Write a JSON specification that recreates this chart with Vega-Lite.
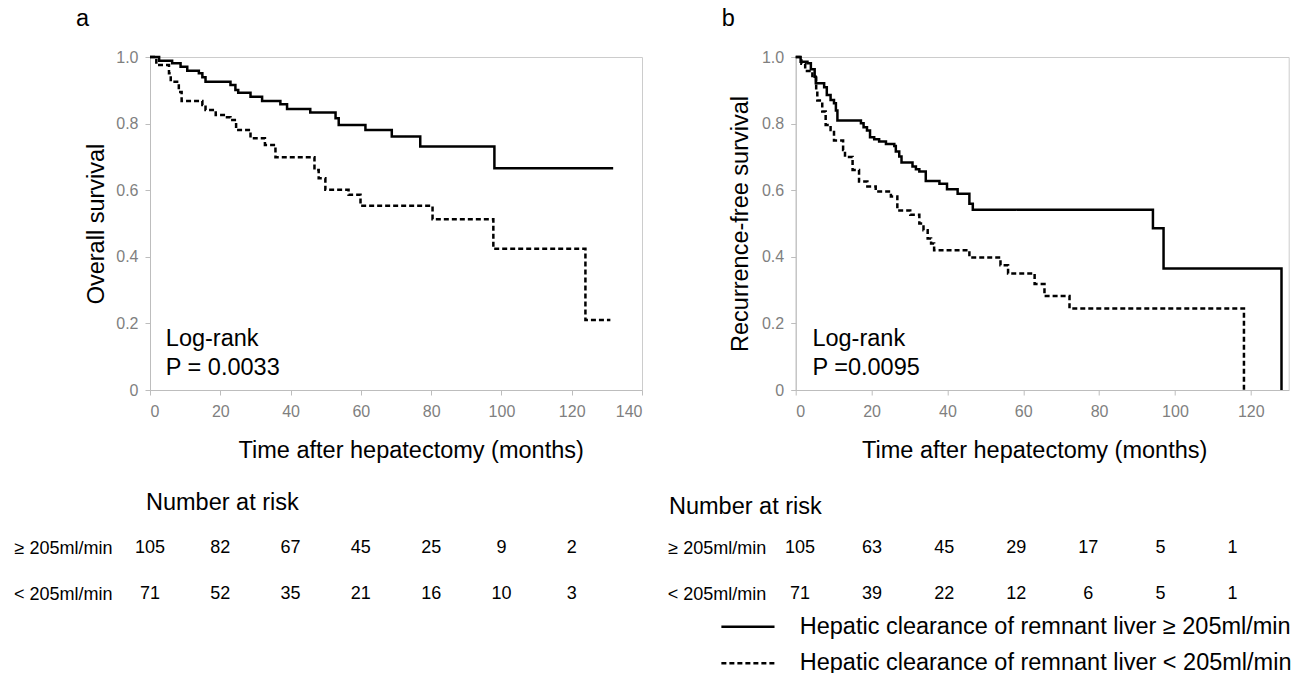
{
  "$schema": "https://vega.github.io/schema/vega-lite/v6.json",
  "background": "white",
  "padding": {"left": 13, "top": 6, "right": 0, "bottom": 0},
  "config": {
    "font": "Liberation Sans",
    "view": {"stroke": "#cccccc", "strokeWidth": 1},
    "axis": {"domainColor": "#bdbdbd", "tickColor": "#bdbdbd", "labelColor": "#7f7f7f", "labelFont": "Liberation Sans", "labelFontSize": 16, "titleFont": "Liberation Sans", "titleFontSize": 23.5, "titleFontWeight": "normal", "titleColor": "black", "grid": false, "tickSize": 5},
    "title": {"font": "Liberation Sans", "fontSize": 23.5, "fontWeight": "normal", "color": "black"},
    "text": {"font": "Liberation Sans", "color": "black"}
  },
  "datasets": {
    "os": [
      {"group": "≥ 205ml/min", "t": 0, "s": 1.0},
      {"group": "≥ 205ml/min", "t": 2.6, "s": 0.989},
      {"group": "≥ 205ml/min", "t": 6.3, "s": 0.981},
      {"group": "≥ 205ml/min", "t": 8.7, "s": 0.971},
      {"group": "≥ 205ml/min", "t": 10.6, "s": 0.959},
      {"group": "≥ 205ml/min", "t": 13.9, "s": 0.951},
      {"group": "≥ 205ml/min", "t": 14.9, "s": 0.939},
      {"group": "≥ 205ml/min", "t": 15.8, "s": 0.926},
      {"group": "≥ 205ml/min", "t": 22.9, "s": 0.916},
      {"group": "≥ 205ml/min", "t": 24.3, "s": 0.901},
      {"group": "≥ 205ml/min", "t": 25.1, "s": 0.893},
      {"group": "≥ 205ml/min", "t": 28.6, "s": 0.881},
      {"group": "≥ 205ml/min", "t": 31.9, "s": 0.868},
      {"group": "≥ 205ml/min", "t": 37.1, "s": 0.858},
      {"group": "≥ 205ml/min", "t": 39.0, "s": 0.844},
      {"group": "≥ 205ml/min", "t": 45.6, "s": 0.833},
      {"group": "≥ 205ml/min", "t": 52.8, "s": 0.816},
      {"group": "≥ 205ml/min", "t": 53.7, "s": 0.796},
      {"group": "≥ 205ml/min", "t": 61.3, "s": 0.781},
      {"group": "≥ 205ml/min", "t": 68.8, "s": 0.761},
      {"group": "≥ 205ml/min", "t": 76.9, "s": 0.731},
      {"group": "≥ 205ml/min", "t": 98.0, "s": 0.666},
      {"group": "≥ 205ml/min", "t": 131.8, "s": 0.666},
      {"group": "< 205ml/min", "t": 0, "s": 1.0},
      {"group": "< 205ml/min", "t": 1.8, "s": 0.976},
      {"group": "< 205ml/min", "t": 5.4, "s": 0.951},
      {"group": "< 205ml/min", "t": 5.9, "s": 0.926},
      {"group": "< 205ml/min", "t": 8.2, "s": 0.895},
      {"group": "< 205ml/min", "t": 9.0, "s": 0.868},
      {"group": "< 205ml/min", "t": 14.9, "s": 0.856},
      {"group": "< 205ml/min", "t": 15.8, "s": 0.841},
      {"group": "< 205ml/min", "t": 18.7, "s": 0.826},
      {"group": "< 205ml/min", "t": 21.0, "s": 0.819},
      {"group": "< 205ml/min", "t": 22.9, "s": 0.811},
      {"group": "< 205ml/min", "t": 24.5, "s": 0.781},
      {"group": "< 205ml/min", "t": 28.6, "s": 0.756},
      {"group": "< 205ml/min", "t": 32.7, "s": 0.736},
      {"group": "< 205ml/min", "t": 35.7, "s": 0.699},
      {"group": "< 205ml/min", "t": 46.8, "s": 0.661},
      {"group": "< 205ml/min", "t": 48.0, "s": 0.636},
      {"group": "< 205ml/min", "t": 49.9, "s": 0.601},
      {"group": "< 205ml/min", "t": 56.5, "s": 0.586},
      {"group": "< 205ml/min", "t": 59.9, "s": 0.553},
      {"group": "< 205ml/min", "t": 80.4, "s": 0.513},
      {"group": "< 205ml/min", "t": 97.7, "s": 0.424},
      {"group": "< 205ml/min", "t": 123.9, "s": 0.21},
      {"group": "< 205ml/min", "t": 131.0, "s": 0.21}
    ],
    "rfs": [
      {"group": "≥ 205ml/min", "t": 0, "s": 1.0},
      {"group": "≥ 205ml/min", "t": 1.3, "s": 0.986},
      {"group": "≥ 205ml/min", "t": 3.1, "s": 0.981},
      {"group": "≥ 205ml/min", "t": 4.0, "s": 0.963},
      {"group": "≥ 205ml/min", "t": 5.0, "s": 0.941},
      {"group": "≥ 205ml/min", "t": 5.3, "s": 0.921},
      {"group": "≥ 205ml/min", "t": 7.5, "s": 0.909},
      {"group": "≥ 205ml/min", "t": 8.2, "s": 0.886},
      {"group": "≥ 205ml/min", "t": 9.2, "s": 0.871},
      {"group": "≥ 205ml/min", "t": 10.1, "s": 0.861},
      {"group": "≥ 205ml/min", "t": 10.6, "s": 0.839},
      {"group": "≥ 205ml/min", "t": 11.0, "s": 0.809},
      {"group": "≥ 205ml/min", "t": 17.2, "s": 0.801},
      {"group": "≥ 205ml/min", "t": 17.9, "s": 0.789},
      {"group": "≥ 205ml/min", "t": 18.8, "s": 0.779},
      {"group": "≥ 205ml/min", "t": 19.6, "s": 0.759},
      {"group": "≥ 205ml/min", "t": 20.7, "s": 0.753},
      {"group": "≥ 205ml/min", "t": 22.0, "s": 0.746},
      {"group": "≥ 205ml/min", "t": 23.8, "s": 0.739},
      {"group": "≥ 205ml/min", "t": 26.0, "s": 0.733},
      {"group": "≥ 205ml/min", "t": 26.4, "s": 0.716},
      {"group": "≥ 205ml/min", "t": 27.3, "s": 0.701},
      {"group": "≥ 205ml/min", "t": 27.9, "s": 0.683},
      {"group": "≥ 205ml/min", "t": 30.8, "s": 0.671},
      {"group": "≥ 205ml/min", "t": 31.7, "s": 0.663},
      {"group": "≥ 205ml/min", "t": 32.6, "s": 0.656},
      {"group": "≥ 205ml/min", "t": 34.3, "s": 0.628},
      {"group": "≥ 205ml/min", "t": 37.9, "s": 0.619},
      {"group": "≥ 205ml/min", "t": 39.9, "s": 0.603},
      {"group": "≥ 205ml/min", "t": 42.7, "s": 0.589},
      {"group": "≥ 205ml/min", "t": 45.8, "s": 0.559},
      {"group": "≥ 205ml/min", "t": 46.7, "s": 0.541},
      {"group": "≥ 205ml/min", "t": 94.2, "s": 0.486},
      {"group": "≥ 205ml/min", "t": 97.0, "s": 0.365},
      {"group": "≥ 205ml/min", "t": 128.1, "s": 0.0},
      {"group": "< 205ml/min", "t": 0, "s": 1.0},
      {"group": "< 205ml/min", "t": 1.5, "s": 0.98},
      {"group": "< 205ml/min", "t": 2.5, "s": 0.958},
      {"group": "< 205ml/min", "t": 4.4, "s": 0.943},
      {"group": "< 205ml/min", "t": 5.4, "s": 0.9},
      {"group": "< 205ml/min", "t": 5.7, "s": 0.869},
      {"group": "< 205ml/min", "t": 7.0, "s": 0.836},
      {"group": "< 205ml/min", "t": 7.9, "s": 0.796},
      {"group": "< 205ml/min", "t": 9.2, "s": 0.781},
      {"group": "< 205ml/min", "t": 10.1, "s": 0.749},
      {"group": "< 205ml/min", "t": 12.5, "s": 0.721},
      {"group": "< 205ml/min", "t": 13.0, "s": 0.7},
      {"group": "< 205ml/min", "t": 15.0, "s": 0.661},
      {"group": "< 205ml/min", "t": 16.7, "s": 0.626},
      {"group": "< 205ml/min", "t": 18.9, "s": 0.611},
      {"group": "< 205ml/min", "t": 21.1, "s": 0.596},
      {"group": "< 205ml/min", "t": 25.1, "s": 0.581},
      {"group": "< 205ml/min", "t": 26.8, "s": 0.539},
      {"group": "< 205ml/min", "t": 30.2, "s": 0.526},
      {"group": "< 205ml/min", "t": 32.6, "s": 0.5},
      {"group": "< 205ml/min", "t": 33.7, "s": 0.48},
      {"group": "< 205ml/min", "t": 34.8, "s": 0.455},
      {"group": "< 205ml/min", "t": 35.7, "s": 0.44},
      {"group": "< 205ml/min", "t": 36.5, "s": 0.42},
      {"group": "< 205ml/min", "t": 45.8, "s": 0.398},
      {"group": "< 205ml/min", "t": 54.0, "s": 0.375},
      {"group": "< 205ml/min", "t": 56.0, "s": 0.35},
      {"group": "< 205ml/min", "t": 63.0, "s": 0.318},
      {"group": "< 205ml/min", "t": 65.6, "s": 0.282},
      {"group": "< 205ml/min", "t": 72.2, "s": 0.245},
      {"group": "< 205ml/min", "t": 118.2, "s": 0.0}
    ],
    "riskA": [
      {"group": "≥ 205ml/min", "t": 0, "n": 105},
      {"group": "≥ 205ml/min", "t": 20, "n": 82},
      {"group": "≥ 205ml/min", "t": 40, "n": 67},
      {"group": "≥ 205ml/min", "t": 60, "n": 45},
      {"group": "≥ 205ml/min", "t": 80, "n": 25},
      {"group": "≥ 205ml/min", "t": 100, "n": 9},
      {"group": "≥ 205ml/min", "t": 120, "n": 2},
      {"group": "< 205ml/min", "t": 0, "n": 71},
      {"group": "< 205ml/min", "t": 20, "n": 52},
      {"group": "< 205ml/min", "t": 40, "n": 35},
      {"group": "< 205ml/min", "t": 60, "n": 21},
      {"group": "< 205ml/min", "t": 80, "n": 16},
      {"group": "< 205ml/min", "t": 100, "n": 10},
      {"group": "< 205ml/min", "t": 120, "n": 3}
    ],
    "riskB": [
      {"group": "≥ 205ml/min", "t": 0, "n": 105},
      {"group": "≥ 205ml/min", "t": 20, "n": 63},
      {"group": "≥ 205ml/min", "t": 40, "n": 45},
      {"group": "≥ 205ml/min", "t": 60, "n": 29},
      {"group": "≥ 205ml/min", "t": 80, "n": 17},
      {"group": "≥ 205ml/min", "t": 100, "n": 5},
      {"group": "≥ 205ml/min", "t": 120, "n": 1},
      {"group": "< 205ml/min", "t": 0, "n": 71},
      {"group": "< 205ml/min", "t": 20, "n": 39},
      {"group": "< 205ml/min", "t": 40, "n": 22},
      {"group": "< 205ml/min", "t": 60, "n": 12},
      {"group": "< 205ml/min", "t": 80, "n": 6},
      {"group": "< 205ml/min", "t": 100, "n": 5},
      {"group": "< 205ml/min", "t": 120, "n": 1}
    ]
  },
  "columns": 2,
  "bounds": "flush",
  "spacing": {"column": 153.7, "row": 158},
  "resolve": {"scale": {"strokeDash": "independent"}, "legend": {"strokeDash": "independent"}},
  "concat": [
    {
      "width": 492,
      "height": 333,
      "title": {"text": "a", "anchor": "start", "frame": "group", "dx": -74, "offset": 0, "baseline": "alphabetic"},
      "layer": [
        {
          "data": {"name": "os"},
          "mark": {"type": "line", "interpolate": "step-after", "strokeWidth": 2.5, "color": "black"},
          "encoding": {
            "x": {"field": "t", "type": "quantitative", "scale": {"domain": [0, 140], "nice": false},
                  "axis": {"values": [0, 20, 40, 60, 80, 100, 120, 140], "labelPadding": 8, "title": "Time after hepatectomy (months)", "titleX": 260.7, "titleY": 60, "titleAlign": "center", "titleBaseline": "middle"}},
            "y": {"field": "s", "type": "quantitative", "scale": {"domain": [0, 1], "nice": false},
                  "axis": {"values": [0, 0.1, 0.2, 0.3, 0.4, 0.5, 0.6, 0.7, 0.8, 0.9, 1.0], "labelPadding": 7, "labelExpr": "datum.value == 0 ? '0' : (round(datum.value * 10) % 2 == 0 ? format(datum.value, '.1f') : '')", "title": "Overall survival", "titleX": -54, "titleY": 166.5, "titleAngle": -90, "titleAlign": "center", "titleBaseline": "middle"}},
            "strokeDash": {"field": "group", "type": "nominal", "scale": {"domain": ["≥ 205ml/min", "< 205ml/min"], "range": [[1, 0], [5, 3]]}, "legend": null}
          }
        },
        {
          "data": {"values": [{"label": "Log-rank\nP = 0.0033"}]},
          "mark": {"type": "text", "align": "left", "baseline": "alphabetic", "fontSize": 23.5, "lineHeight": 29, "lineBreak": "\n"},
          "encoding": {"x": {"datum": 4.5}, "y": {"datum": 0.132}, "text": {"field": "label"}}
        }
      ]
    },
    {
      "width": 493,
      "height": 333,
      "title": {"text": "b", "anchor": "start", "frame": "group", "dx": -74, "offset": 0, "baseline": "alphabetic"},
      "layer": [
        {
          "data": {"name": "rfs"},
          "mark": {"type": "line", "interpolate": "step-after", "strokeWidth": 2.5, "color": "black"},
          "encoding": {
            "x": {"field": "t", "type": "quantitative", "scale": {"domain": [0, 130], "nice": false},
                  "axis": {"values": [0, 10, 20, 30, 40, 50, 60, 70, 80, 90, 100, 110, 120, 130], "labelPadding": 8, "labelExpr": "datum.value % 20 == 0 ? datum.label : ''", "title": "Time after hepatectomy (months)", "titleX": 238.5, "titleY": 60, "titleAlign": "center", "titleBaseline": "middle"}},
            "y": {"field": "s", "type": "quantitative", "scale": {"domain": [0, 1], "nice": false},
                  "axis": {"values": [0, 0.1, 0.2, 0.3, 0.4, 0.5, 0.6, 0.7, 0.8, 0.9, 1.0], "labelPadding": 7, "labelExpr": "datum.value == 0 ? '0' : (round(datum.value * 10) % 2 == 0 ? format(datum.value, '.1f') : '')", "title": "Recurrence-free survival", "titleX": -55.7, "titleY": 166.5, "titleAngle": -90, "titleAlign": "center", "titleBaseline": "middle"}},
            "strokeDash": {"field": "group", "type": "nominal", "scale": {"domain": ["≥ 205ml/min", "< 205ml/min"], "range": [[1, 0], [5, 3]]},
                           "legend": {"orient": "none", "legendX": -59.5, "legendY": 558, "direction": "vertical", "title": null, "symbolType": "M-5,0H5", "symbolSize": 113, "symbolStrokeWidth": 2.5, "symbolStrokeColor": "black", "labelFontSize": 23.5, "labelFont": "Liberation Sans", "labelColor": "black", "labelOffset": 40, "labelLimit": 0, "labelExpr": "'Hepatic clearance of remnant liver ' + datum.label", "rowPadding": 11.5, "padding": 0,
                                      "encode": {"symbols": {"update": {"strokeDash": {"signal": "datum.value === '< 205ml/min' ? [2.5, 3.5] : [1, 0]"}, "strokeWidth": {"value": 2.5}}}}}}
          }
        },
        {
          "data": {"values": [{"label": "Log-rank\nP =0.0095"}]},
          "mark": {"type": "text", "align": "left", "baseline": "alphabetic", "fontSize": 23.5, "lineHeight": 29, "lineBreak": "\n"},
          "encoding": {"x": {"datum": 4.4}, "y": {"datum": 0.132}, "text": {"field": "label"}}
        }
      ]
    },
    {
      "width": 492,
      "height": 46,
      "view": {"stroke": null},
      "title": {"text": "Number at risk", "anchor": "start", "frame": "group", "dx": -4, "offset": 6, "baseline": "alphabetic"},
      "data": {"name": "riskA"},
      "mark": {"type": "text", "fontSize": 18, "baseline": "middle"},
      "encoding": {
        "x": {"field": "t", "type": "quantitative", "scale": {"domain": [0, 140], "nice": false}, "axis": null},
        "y": {"field": "group", "type": "nominal", "scale": {"type": "point", "padding": 0, "domain": ["≥ 205ml/min", "< 205ml/min"]},
              "axis": {"title": null, "domain": false, "ticks": false, "tickSize": 0, "labelPadding": 38, "labelFontSize": 18, "labelColor": "black"}},
        "text": {"field": "n", "type": "quantitative"}
      }
    },
    {
      "width": 493,
      "height": 46,
      "view": {"stroke": null},
      "title": {"text": "Number at risk", "anchor": "start", "frame": "group", "dx": -126.7, "offset": 2, "baseline": "alphabetic"},
      "data": {"name": "riskB"},
      "mark": {"type": "text", "fontSize": 18, "baseline": "middle"},
      "encoding": {
        "x": {"field": "t", "type": "quantitative", "scale": {"domain": [-1.2, 135.6], "nice": false}, "axis": null},
        "y": {"field": "group", "type": "nominal", "scale": {"type": "point", "padding": 0, "domain": ["≥ 205ml/min", "< 205ml/min"]},
              "axis": {"title": null, "domain": false, "ticks": false, "tickSize": 0, "labelPadding": 30, "labelFontSize": 18, "labelColor": "black"}},
        "text": {"field": "n", "type": "quantitative"}
      }
    }
  ]
}
